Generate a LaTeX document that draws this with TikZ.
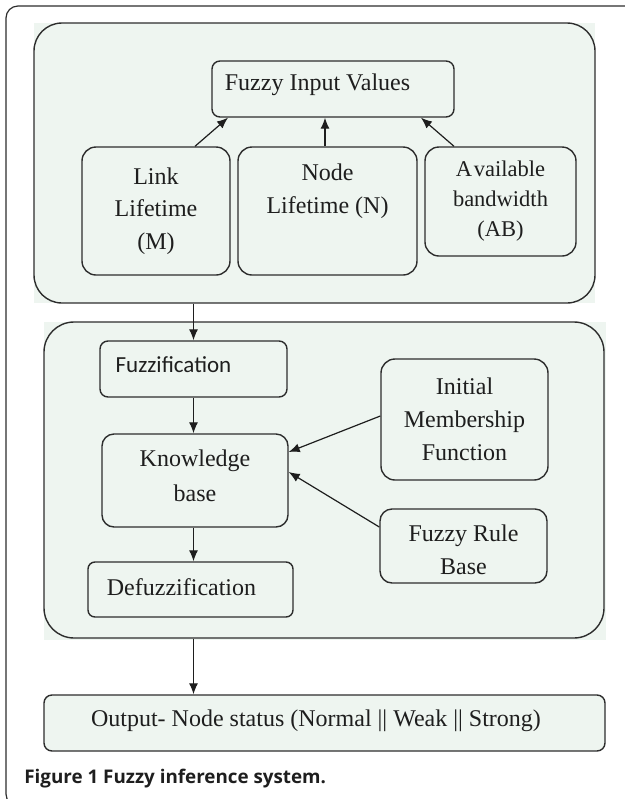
\documentclass[tikz,border=0pt]{standalone}
\usepackage{fontspec}
\setmainfont{Liberation Serif}
\newfontfamily\calib{Carlito}
\newfontfamily\capfont{Open Sans}
\usetikzlibrary{arrows.meta,calc}
\definecolor{mint}{RGB}{238,245,240}
\definecolor{ln}{RGB}{45,45,45}
\definecolor{txt}{RGB}{30,30,30}
\begin{document}
\begin{tikzpicture}[x=0.5pt,y=-0.5pt,
  grp/.style={draw=ln, line width=0.7pt, rounded corners=14pt, inner sep=0pt},
  box/.style={draw=ln, line width=0.7pt, fill=mint, rounded corners=#1, inner sep=0pt,
    align=center, text=txt, font=\fontsize{12}{16.25}\selectfont},
  box/.default=4pt,
  lbl/.style={inner sep=0pt, align=center, text=txt, font=\fontsize{12}{16.25}\selectfont},
  arr/.style={-{Latex[length=5.5pt,width=4.5pt]}, line width=0.6pt, draw=txt},
]
\useasboundingbox (0,0) rectangle (625,799);
\begin{scope}
\clip (0,0) rectangle (625,799);
\draw[ln, line width=0.6pt, rounded corners=6pt] (6,6) rectangle (640,806);
\end{scope}
% group backgrounds
\fill[mint] (34,23) rectangle (595,303);
\fill[mint] (44,322) rectangle (606,640);
% groups
\node[grp, minimum width=280.5pt, minimum height=140pt] (top) at (314.5,163) {};
\node[grp, rounded corners=15pt, minimum width=280pt, minimum height=158pt] (mid) at (324,480) {};
% top group boxes
\node[box=4pt, minimum width=121pt, minimum height=28pt,
  label={[lbl, xshift=-7.75pt, yshift=2pt]center:Fuzzy Input Values}] (fiv) at (333,89) {};
\node[box=7pt, minimum width=74pt, minimum height=64pt] (link) at (156,211)
  {Link\\Lifetime\\(M)};
\node[box=7pt, minimum width=89.5pt, minimum height=64pt,
  label={[lbl, yshift=10pt]center:Node\\Lifetime (N)}] (nodelt) at (327.5,211) {};
\node[box=7pt, minimum width=75.5pt, minimum height=54.5pt,
  font=\fontsize{11.25}{15}\selectfont] (ab) at (500.5,201.5)
  {A\kern0.8pt vailable\\bandwidth\\(AB)};
% middle group boxes
\node[box=4pt, minimum width=93.5pt, minimum height=28pt,
  label={[lbl, font=\calib\fontsize{11.5}{14}\selectfont, xshift=-10pt, yshift=2pt]center:Fuzzification}] (fuzz) at (193.5,369) {};
\node[box=6pt, minimum width=93pt, minimum height=46.5pt,
  label={[lbl, font=\fontsize{12}{17.5}\selectfont, yshift=2.5pt]center:Knowledge\\base}] (kb) at (195,480.5) {};
\node[box=3.5pt, minimum width=102.5pt, minimum height=27.5pt,
  label={[lbl, xshift=-4.5pt, yshift=1.25pt]center:Defuzzification}] (defuzz) at (190.5,589.5) {};
\node[box=7pt, minimum width=83.5pt, minimum height=60.5pt,
  font=\fontsize{12}{16.5}\selectfont] (init) at (464.5,419.5)
  {Initial\\Membership\\Function};
\node[box=6pt, minimum width=83.5pt, minimum height=37pt,
  label={[lbl, yshift=-2pt]center:Fuzzy Rule\\Base}] (rule) at (463.5,546) {};
% output
\node[box=4pt, minimum width=280.5pt, minimum height=28pt,
  label={[lbl, xshift=-4.25pt, yshift=1pt]center:Output- Node status (Normal || Weak || Strong)}] (out) at (324.5,723) {};
% caption
\node[anchor=base west, inner sep=0pt, text=txt,
  font=\capfont\bfseries\fontsize{9.4}{11}\selectfont] (cap) at (24,783)
  {Figure 1 Fuzzy inference system.};
% connectors
\draw[arr] ([xshift=19.5pt]link.north) -- ([xshift=-52.5pt]fiv.south);
\draw[arr] ([xshift=-1.25pt]nodelt.north) -- ([xshift=-4pt]fiv.south);
\draw[arr] ([xshift=-23.25pt]ab.north) -- ([xshift=44pt]fiv.south);
\draw[arr] (top.south -| fuzz.north) -- (fuzz.north);
\draw[arr] (fuzz.south) -- (fuzz.south |- kb.north);
\draw[arr] (fuzz.south |- kb.south) -- (fuzz.south |- defuzz.north);
\draw[arr] ([yshift=1.75pt]init.west) -- ([yshift=14.25pt]kb.east);
\draw[arr] ([yshift=9.5pt]rule.west) -- ([yshift=4.25pt]kb.east);
\draw[arr] (mid.south -| fuzz.north) -- (out.north -| fuzz.north);
\end{tikzpicture}
\end{document}
